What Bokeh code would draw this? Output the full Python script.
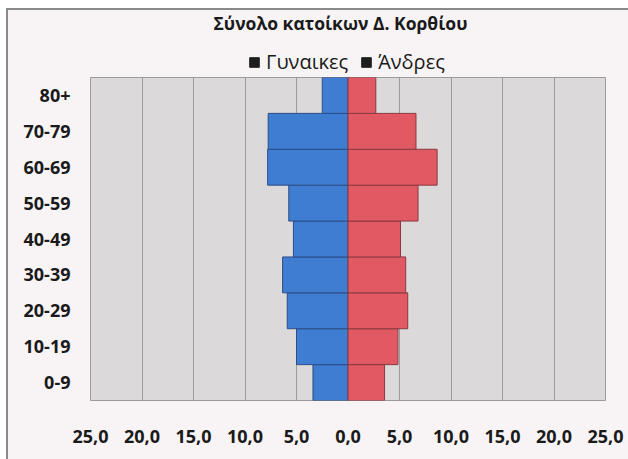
from bokeh.plotting import figure
from bokeh.layouts import column
from bokeh.models import FactorRange, FixedTicker, Legend, LegendItem, ColumnDataSource
from bokeh.embed import file_html
from bokeh.resources import INLINE

categories = ["0-9", "10-19", "20-29", "30-39", "40-49", "50-59", "60-69", "70-79", "80+"]
women = [3.4, 5.0, 5.9, 6.35, 5.3, 5.75, 7.8, 7.75, 2.5]
men = [3.55, 4.85, 5.8, 5.6, 5.1, 6.8, 8.65, 6.6, 2.7]
x_ticks = [-25, -20, -15, -10, -5, 0, 5, 10, 15, 20, 25]
x_tick_labels = ["25,0", "20,0", "15,0", "10,0", "5,0", "0,0", "5,0", "10,0", "15,0", "20,0", "25,0"]
title_text = "Σύνολο κατοίκων Δ. Κορθίου"
series_names = ["Γυναικες", "Άνδρες"]

FONT = "Open Sans"
BLUE = "#3f7dd2"
RED = "#e15a63"
BG = "#f8f4f6"
W = 620

# ---- header: title + legend ----
header = figure(width=W, height=67, x_range=(0, 1), y_range=(0, 1), x_axis_type=None, y_axis_type=None,
                output_backend="svg", toolbar_location=None, title=title_text, min_border=0,
                min_border_top=8)
header.title.align = "left"
header.title.offset = 123
header.title.vertical_align = "bottom"
header.title.text_font = FONT
header.title.text_font_size = "17.5px"
header.title.text_font_style = "bold"
header.title.text_color = "#1a1a1a"
header.title.standoff = -4
header.background_fill_color = BG
header.border_fill_color = BG
header.outline_line_color = None
header.grid.visible = False

nan = float("nan")
dummy = ColumnDataSource(dict(y=[0.5], l=[nan], r=[nan]))
r1 = header.hbar(y="y", left="l", right="r", height=0.1, source=dummy, fill_color="#1e1e1e", line_color="#1e1e1e")
r2 = header.hbar(y="y", left="l", right="r", height=0.1, source=dummy, fill_color="#1e1e1e", line_color="#1e1e1e")
legend = Legend(items=[LegendItem(label=series_names[0], renderers=[r1]),
                       LegendItem(label=series_names[1], renderers=[r2])],
                orientation="horizontal", location=(158, 2),
                label_text_font=FONT, label_text_font_size="20px", label_text_color="#1a1a1a",
                glyph_width=12, glyph_height=12, label_standoff=6, spacing=12,
                padding=0, margin=0, border_line_color=None, background_fill_alpha=0)
header.add_layout(legend, "center")

# ---- main pyramid ----
p = figure(width=W, height=382, y_range=FactorRange(*categories), x_range=(-25, 25),
           output_backend="svg", toolbar_location=None,
           min_border_left=82, min_border_right=23, min_border_bottom=59, min_border_top=0)
p.background_fill_color = "#dcd9da"
p.border_fill_color = BG
p.outline_line_color = "#9c9a9b"

src = ColumnDataSource(dict(cat=categories, left=[-w for w in women], right=men, zero=[0] * len(categories)))
p.hbar(y="cat", left="left", right="zero", height=1.0, source=src, fill_color=BLUE, line_color="#2c4d85", line_width=1)
p.hbar(y="cat", left="zero", right="right", height=1.0, source=src, fill_color=RED, line_color="#8a3840", line_width=1)

p.xaxis.ticker = FixedTicker(ticks=x_ticks)
p.xaxis.major_label_overrides = {t: l for t, l in zip(x_ticks, x_tick_labels)}
for ax in (p.xaxis, p.yaxis):
    ax.axis_line_color = None
    ax.major_tick_line_color = None
    ax.minor_tick_line_color = None
    ax.major_tick_out = 0
    ax.major_tick_in = 0
    ax.major_label_text_font = FONT
    ax.major_label_text_font_size = "18px"
    ax.major_label_text_font_style = "bold"
    ax.major_label_text_color = "#1a1a1a"
p.xaxis.major_label_standoff = 29
p.yaxis.major_label_standoff = 20

p.xgrid.ticker = FixedTicker(ticks=x_ticks)
p.xgrid.grid_line_color = "#9c9a9b"
p.ygrid.grid_line_color = None

layout = column(header, p, spacing=0,
                styles={"margin-left": "6px", "margin-top": "8px",
                        "border-left": "2px solid #8a8a8a", "border-top": "2px solid #8a8a8a",
                        "background-color": BG})

open("out.html", "w").write(file_html(layout, INLINE))
